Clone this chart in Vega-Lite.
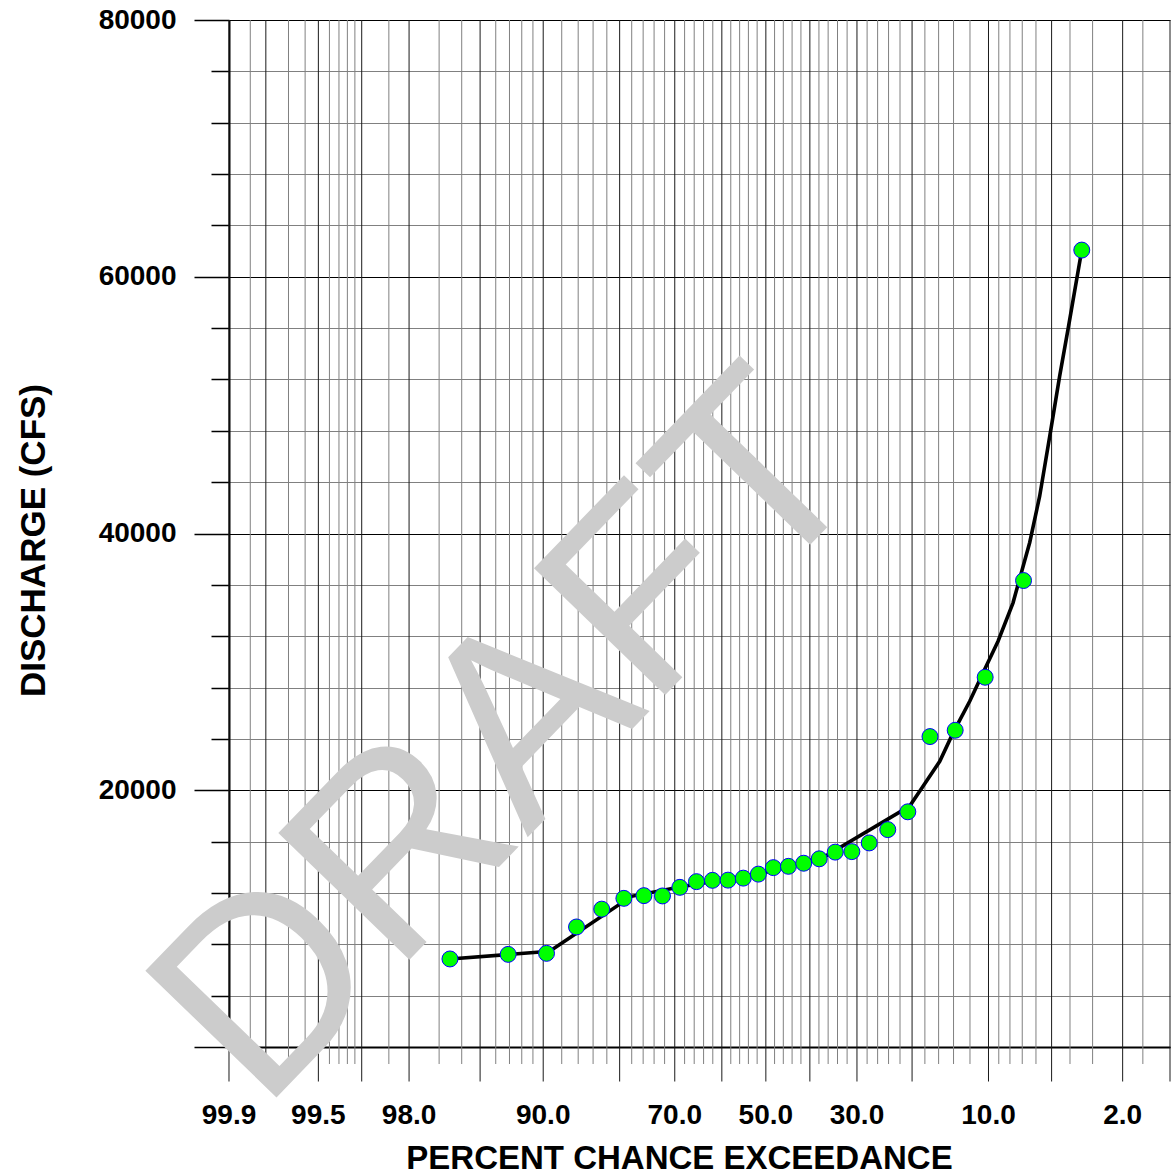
{
  "$schema": "https://vega.github.io/schema/vega-lite/v6.json",
  "width": 941,
  "height": 1027,
  "autosize": {"type": "none"},
  "padding": {"left": 229, "top": 20, "right": 6, "bottom": 127},
  "background": "white",
  "config": {"view": {"stroke": null}, "font": "Liberation Sans"},
  "datasets": {
    "grid": [
      {"p": 99.9, "kind": "major"}, {"p": 99.8, "kind": "major"}, {"p": 99.5, "kind": "major"},
      {"p": 99, "kind": "major"}, {"p": 98, "kind": "major"}, {"p": 95, "kind": "major"},
      {"p": 90, "kind": "major"}, {"p": 80, "kind": "major"}, {"p": 70, "kind": "major"},
      {"p": 60, "kind": "major"}, {"p": 50, "kind": "major"}, {"p": 40, "kind": "major"},
      {"p": 30, "kind": "major"}, {"p": 20, "kind": "major"}, {"p": 10, "kind": "major"},
      {"p": 5, "kind": "major"}, {"p": 2, "kind": "major"}, {"p": 1, "kind": "major"},
      {"p": 99.85, "kind": "minor"}, {"p": 99.7, "kind": "minor"}, {"p": 99.6, "kind": "minor"},
      {"p": 99.4, "kind": "minor"}, {"p": 99.3, "kind": "minor"}, {"p": 99.2, "kind": "minor"},
      {"p": 99.1, "kind": "minor"}, {"p": 98.5, "kind": "minor"}, {"p": 97, "kind": "minor"},
      {"p": 96, "kind": "minor"}, {"p": 94, "kind": "minor"}, {"p": 93, "kind": "minor"},
      {"p": 92, "kind": "minor"}, {"p": 91, "kind": "minor"}, {"p": 88, "kind": "minor"},
      {"p": 86, "kind": "minor"}, {"p": 84, "kind": "minor"}, {"p": 82, "kind": "minor"},
      {"p": 78, "kind": "minor"}, {"p": 76, "kind": "minor"}, {"p": 74, "kind": "minor"},
      {"p": 72, "kind": "minor"}, {"p": 68, "kind": "minor"}, {"p": 66, "kind": "minor"},
      {"p": 64, "kind": "minor"}, {"p": 62, "kind": "minor"}, {"p": 58, "kind": "minor"},
      {"p": 56, "kind": "minor"}, {"p": 54, "kind": "minor"}, {"p": 52, "kind": "minor"},
      {"p": 48, "kind": "minor"}, {"p": 46, "kind": "minor"}, {"p": 44, "kind": "minor"},
      {"p": 42, "kind": "minor"}, {"p": 38, "kind": "minor"}, {"p": 36, "kind": "minor"},
      {"p": 34, "kind": "minor"}, {"p": 32, "kind": "minor"}, {"p": 28, "kind": "minor"},
      {"p": 26, "kind": "minor"}, {"p": 24, "kind": "minor"}, {"p": 22, "kind": "minor"},
      {"p": 18, "kind": "minor"}, {"p": 16, "kind": "minor"}, {"p": 14, "kind": "minor"},
      {"p": 12, "kind": "minor"}, {"p": 9, "kind": "minor"}, {"p": 8, "kind": "minor"},
      {"p": 7, "kind": "minor"}, {"p": 6, "kind": "minor"}, {"p": 4, "kind": "minor"},
      {"p": 3, "kind": "minor"}, {"p": 1.5, "kind": "minor"}
    ],
    "ticklabels": [
      {"p": 99.9, "label": "99.9"}, {"p": 99.5, "label": "99.5"}, {"p": 98, "label": "98.0"},
      {"p": 90, "label": "90.0"}, {"p": 70, "label": "70.0"}, {"p": 50, "label": "50.0"},
      {"p": 30, "label": "30.0"}, {"p": 10, "label": "10.0"}, {"p": 2, "label": "2.0"}
    ],
    "watermark": [{"p": 87.24, "q": 19600, "label": "DRAFT"}],
    "curve": [
      {"p": 96.55, "q": 6858}, {"p": 89.33, "q": 7450}, {"p": 78.05, "q": 11736},
      {"p": 69.0, "q": 12468}, {"p": 58.69, "q": 13092}, {"p": 51.87, "q": 13466},
      {"p": 44.99, "q": 14027}, {"p": 36.38, "q": 14907}, {"p": 20.38, "q": 18765},
      {"p": 18.28, "q": 20308}, {"p": 15.84, "q": 22256}, {"p": 14.06, "q": 24469},
      {"p": 12.03, "q": 26932}, {"p": 10.56, "q": 29145}, {"p": 9.07, "q": 31607},
      {"p": 7.74, "q": 34600}, {"p": 6.44, "q": 39299}, {"p": 5.75, "q": 42907},
      {"p": 5.11, "q": 47582}, {"p": 4.54, "q": 52258}, {"p": 4.10, "q": 55897},
      {"p": 3.45, "q": 62077}
    ],
    "peaks": [
      {"p": 96.55, "q": 6858}, {"p": 93.10, "q": 7216}, {"p": 89.66, "q": 7294},
      {"p": 86.21, "q": 9351}, {"p": 82.76, "q": 10738}, {"p": 79.31, "q": 11580},
      {"p": 75.86, "q": 11790}, {"p": 72.41, "q": 11767}, {"p": 68.97, "q": 12437},
      {"p": 65.52, "q": 12881}, {"p": 62.07, "q": 12983}, {"p": 58.62, "q": 12998},
      {"p": 55.17, "q": 13154}, {"p": 51.72, "q": 13466}, {"p": 48.28, "q": 13972},
      {"p": 44.83, "q": 14074}, {"p": 41.38, "q": 14315}, {"p": 37.93, "q": 14658},
      {"p": 34.48, "q": 15180}, {"p": 31.03, "q": 15219}, {"p": 27.59, "q": 15897},
      {"p": 24.14, "q": 16934}, {"p": 20.69, "q": 18321}, {"p": 17.24, "q": 24181},
      {"p": 13.79, "q": 24672}, {"p": 10.34, "q": 28802}, {"p": 6.90, "q": 36337},
      {"p": 3.45, "q": 62077}
    ]
  },
  "encoding": {
    "x": {
      "field": "z",
      "type": "quantitative",
      "scale": {"domain": [-3.090232, 2.326348], "nice": false, "zero": false},
      "axis": {
        "title": "PERCENT CHANCE EXCEEDANCE",
        "labels": false,
        "ticks": false,
        "grid": false,
        "domain": true,
        "domainColor": "#000000",
        "domainWidth": 2,
        "titleFont": "Liberation Sans",
        "titleFontSize": 33,
        "titleFontWeight": "bold",
        "titleColor": "#000000",
        "titlePadding": 95,
        "titleX": 450
      }
    }
  },
  "layer": [
    {
      "data": {"name": "grid"},
      "transform": [
        {"filter": "datum.kind === 'minor'"},
        {"calculate": "quantileNormal(1 - datum.p / 100)", "as": "z"}
      ],
      "mark": {"type": "rule", "color": "#808080", "strokeWidth": 1, "yOffset": 17},
      "encoding": {
        "y": {
          "datum": 0,
          "type": "quantitative",
          "scale": {"domain": [0, 80000], "nice": false, "zero": false},
          "axis": {
            "title": "DISCHARGE (CFS)",
            "values": [0, 4000, 8000, 12000, 16000, 20000, 24000, 28000, 32000, 36000, 40000, 44000, 48000, 52000, 56000, 60000, 64000, 68000, 72000, 76000, 80000],
            "format": "d",
            "labelExpr": "datum.value % 20000 === 0 && datum.value > 0 ? datum.label : ''",
            "labelFont": "Liberation Sans",
            "labelFontSize": 28,
            "labelFontWeight": "bold",
            "labelColor": "#000000",
            "labelPadding": 18,
            "tickSize": {"condition": {"test": "datum.value % 20000 === 0", "value": 35}, "value": 18},
            "tickColor": "#000000",
            "tickWidth": 1.5,
            "grid": true,
            "gridColor": {"condition": {"test": "datum.value % 20000 === 0", "value": "#000000"}, "value": "#808080"},
            "gridWidth": 1,
            "gridOpacity": 1,
            "domain": true,
            "domainColor": "#000000",
            "domainWidth": 2,
            "titleFont": "Liberation Sans",
            "titleFontSize": 35,
            "titleFontWeight": "bold",
            "titleColor": "#000000",
            "titleX": -178,
            "titleY": 520
          }
        },
        "y2": {"datum": 80000}
      }
    },
    {
      "data": {"name": "grid"},
      "transform": [
        {"filter": "datum.kind === 'major'"},
        {"calculate": "quantileNormal(1 - datum.p / 100)", "as": "z"}
      ],
      "mark": {"type": "rule", "color": "#1a1a1a", "strokeWidth": 1, "yOffset": 34.5},
      "encoding": {
        "y": {"datum": 0, "type": "quantitative"},
        "y2": {"datum": 80000}
      }
    },
    {
      "data": {"name": "watermark"},
      "transform": [{"calculate": "quantileNormal(1 - datum.p / 100)", "as": "z"}],
      "mark": {"type": "text", "font": "Liberation Sans", "fontSize": 265, "angle": -46, "align": "center", "baseline": "alphabetic", "color": "#cccccc"},
      "encoding": {
        "y": {"field": "q", "type": "quantitative"},
        "text": {"field": "label"}
      }
    },
    {
      "data": {"name": "curve"},
      "transform": [{"calculate": "quantileNormal(1 - datum.p / 100)", "as": "z"}],
      "mark": {"type": "line", "color": "#000000", "strokeWidth": 3.6},
      "encoding": {
        "y": {"field": "q", "type": "quantitative"}
      }
    },
    {
      "data": {"name": "peaks"},
      "transform": [{"calculate": "quantileNormal(1 - datum.p / 100)", "as": "z"}],
      "mark": {"type": "circle", "color": "#00ff00", "opacity": 1, "stroke": "#0000ff", "strokeWidth": 1, "size": 255},
      "encoding": {
        "y": {"field": "q", "type": "quantitative"}
      }
    },
    {
      "data": {"name": "ticklabels"},
      "transform": [{"calculate": "quantileNormal(1 - datum.p / 100)", "as": "z"}],
      "mark": {"type": "text", "font": "Liberation Sans", "fontSize": 28, "fontWeight": "bold", "align": "center", "baseline": "middle", "dy": 69, "color": "#000000"},
      "encoding": {
        "y": {"datum": 0, "type": "quantitative"},
        "text": {"field": "label"}
      }
    }
  ]
}
